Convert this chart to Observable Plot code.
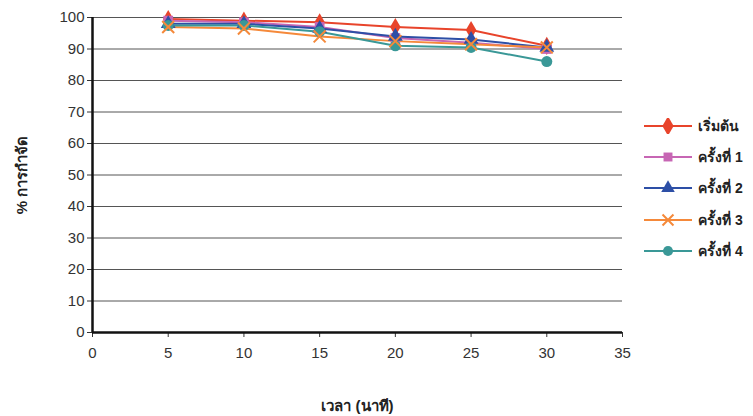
<!DOCTYPE html>
<html><head><meta charset="utf-8">
<script src="https://cdn.jsdelivr.net/npm/d3@7"></script>
<script src="https://cdn.jsdelivr.net/npm/@observablehq/plot@0.6"></script>
<style>
body{margin:0;background:#fff;}
#wrap{position:relative;width:753px;height:416px;font-family:"Liberation Sans",Arial,"Noto Sans",sans-serif;}
#legend{position:absolute;left:642px;top:110px;}
.li{display:flex;align-items:center;height:31.3px;font-weight:bold;font-size:14px;color:#222;}
.li svg{margin-right:4px;}
</style></head><body>
<div id="wrap"><div id="chart"></div><div id="legend"></div></div>
<script>
const times = [5, 10, 15, 20, 25, 30];
const seriesNames = ["เริ่มต้น", "ครั้งที่ 1", "ครั้งที่ 2", "ครั้งที่ 3", "ครั้งที่ 4"];
const start = [99.5, 99, 98.5, 97, 96, 91];
const round1 = [99, 98.5, 97, 93.5, 92, 90];
const round2 = [98, 98, 96.5, 94, 93, 90.5];
const round3 = [97, 96.5, 94, 92.5, 91.5, 90.5];
const round4 = [97.5, 97.5, 95.5, 91, 90.5, 86];
const xTicks = [0, 5, 10, 15, 20, 25, 30, 35];
const yTicks = [0, 10, 20, 30, 40, 50, 60, 70, 80, 90, 100];
const colors = ["#e8442b", "#c766b4", "#2d4fa6", "#f5893a", "#3a9897"];
const symbols = ["diamond", "square", "triangle", "times", "circle"];

const allSeries = [start, round1, round2, round3, round4];
const data = [];
allSeries.forEach((vals, i) => vals.forEach((v, j) => data.push({series: seriesNames[i], t: times[j], v})));

const chart = Plot.plot({
  width: 753, height: 416,
  marginLeft: 92, marginRight: 131, marginTop: 17, marginBottom: 84,
  style: {fontFamily: '"Liberation Sans", Arial, "Noto Sans", sans-serif', fontSize: "15px", color: "#333", background: "#fff"},
  x: {domain: [0, 35]},
  y: {domain: [0, 100]},
  color: {domain: seriesNames, range: colors},
  symbol: {domain: seriesNames, range: symbols},
  marks: [
    Plot.gridY(yTicks, {stroke: "#555", strokeOpacity: 1, strokeWidth: 1}),
    Plot.axisY(yTicks, {tickSize: 5, tickPadding: 3, label: "% การกำจัด", labelAnchor: "center", labelArrow: "none", labelOffset: 76, fontSize: 15}),
    Plot.axisX(xTicks, {tickSize: 5, tickPadding: 10, label: "เวลา (นาที)", labelAnchor: "center", labelArrow: "none", labelOffset: 78, fontSize: 15}),
    Plot.ruleX([0], {stroke: "#111", strokeWidth: 2.5}),
    Plot.ruleY([0], {stroke: "#111", strokeWidth: 2.5}),
    Plot.line(data, {x: "t", y: "v", z: "series", stroke: "series", strokeWidth: 2}),
    Plot.dot(data.filter(d => d.series !== "ครั้งที่ 3"), {x: "t", y: "v", symbol: "series", fill: "series", r: 5.5}),
    Plot.dot(data.filter(d => d.series === "ครั้งที่ 3"), {x: "t", y: "v", symbol: "series", stroke: "series", strokeWidth: 2, r: 5.5})
  ]
});
document.getElementById("chart").appendChild(chart);
d3.select(chart).selectAll('[aria-label="y-axis label"] text, [aria-label="x-axis label"] text').attr("font-weight", "bold").attr("fill", "#222");

const lg = d3.select("#legend");
const map = {diamond: d3.symbolDiamond, square: d3.symbolSquare, triangle: d3.symbolTriangle, times: d3.symbolTimes, circle: d3.symbolCircle};
seriesNames.forEach((name, i) => {
  const row = lg.append("div").attr("class", "li");
  const s = row.append("svg").attr("width", 52).attr("height", 16);
  s.append("line").attr("x1", 2).attr("x2", 50).attr("y1", 8).attr("y2", 8).attr("stroke", colors[i]).attr("stroke-width", 2);
  const path = d3.symbol(map[symbols[i]], symbols[i] === "diamond" ? 110 : 80)();
  const p = s.append("path").attr("d", path).attr("transform", "translate(26,8)");
  if (symbols[i] === "times") p.attr("fill", "none").attr("stroke", colors[i]).attr("stroke-width", 2);
  else p.attr("fill", colors[i]);
  row.append("span").text(name);
});
</script>
</body></html>
